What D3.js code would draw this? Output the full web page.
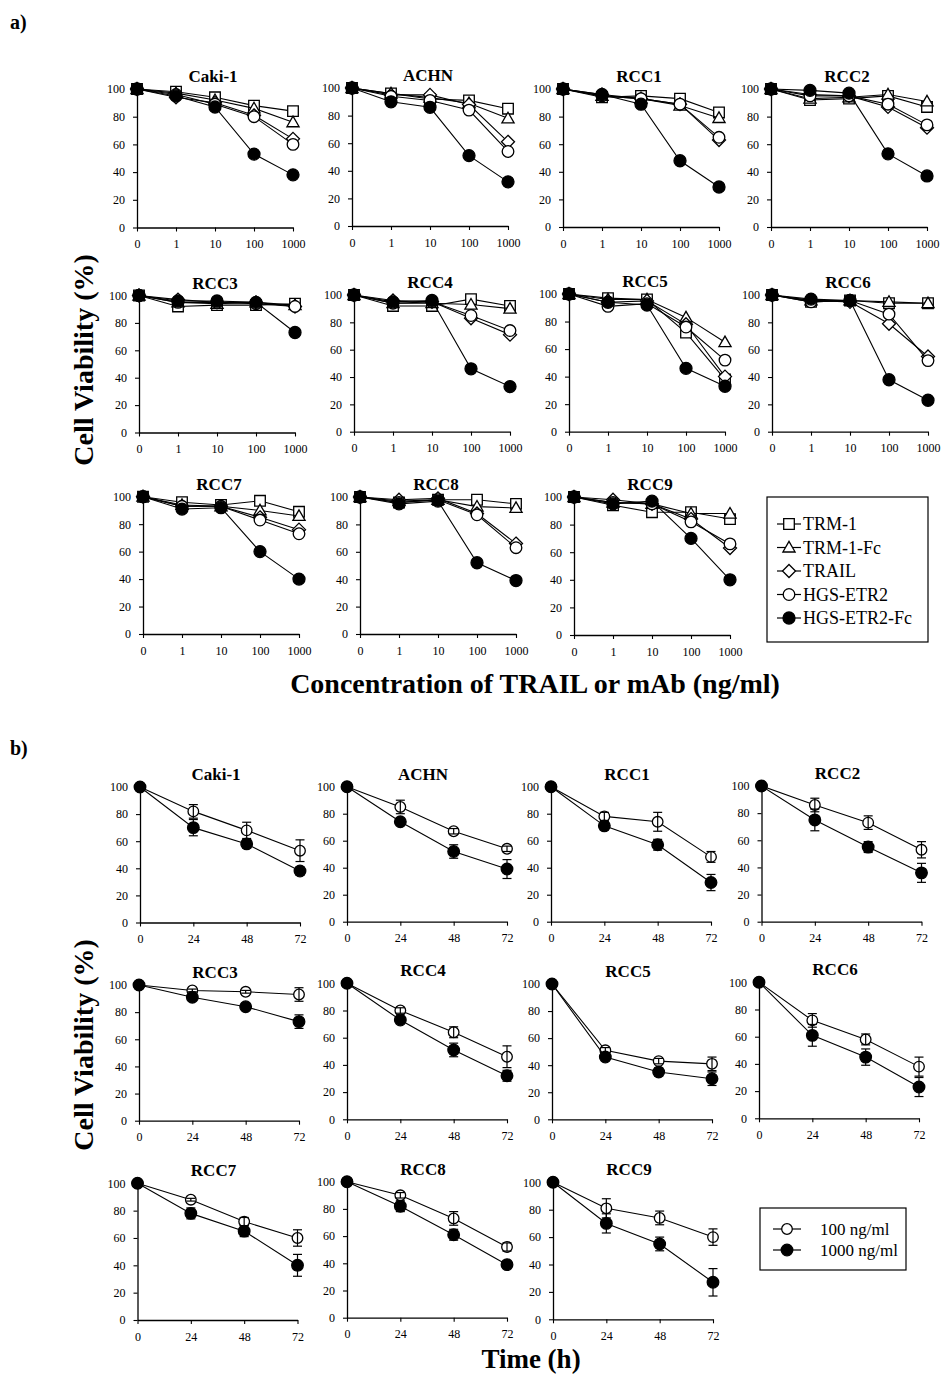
<!DOCTYPE html>
<html><head><meta charset="utf-8">
<script src="https://cdn.jsdelivr.net/npm/d3@7"></script>
<style>
body{margin:0;background:#fff}
svg{display:block}
text{font-family:"Liberation Serif","Times New Roman",serif;fill:#000}
</style>
</head><body>
<svg id="c" width="941" height="1376"></svg>
<script>
// ---------- DATA ----------
const cellLines = ["Caki-1","ACHN","RCC1","RCC2","RCC3","RCC4","RCC5","RCC6","RCC7","RCC8","RCC9"];
const concLabels = ["0","1","10","100","1000"];
const timeLabels = [0,24,48,72];
const yTicks = [0,20,40,60,80,100];
const seriesNamesA = ["TRM-1","TRM-1-Fc","TRAIL","HGS-ETR2","HGS-ETR2-Fc"];
const seriesNamesB = ["100 ng/ml","1000 ng/ml"];

// panel a) viability (%) per cell line, at 0,1,10,100,1000 ng/ml
const trm1 = [
 [100,98,94,88,84],[100,96,92,91,85],[100,94,95,93,83],[100,92,93,95,87],
 [100,92,93,93,94],[100,92,92,97,92],[100,97,96,72,38],[100,95,96,94,94],
 [100,96,94,97,89],[100,96,98,98,95],[100,94,89,89,84]];
const trm1Fc = [
 [100,97,92,86,76],[100,96,93,89,78],[100,95,93,88,79],[100,93,94,96,91],
 [100,95,94,95,93],[100,94,94,93,90],[100,96,96,83,65],[100,96,96,95,94],
 [100,94,93,90,86],[100,97,98,93,92],[100,96,95,88,88]];
const trail = [
 [100,94,90,81,64],[100,95,95,88,61],[100,96,93,89,63],[100,96,95,87,72],
 [100,97,95,95,92],[100,96,95,83,71],[100,94,95,78,40],[100,96,95,79,55],
 [100,93,93,85,76],[100,98,99,88,66],[100,98,95,84,63]];
const hgsEtr2 = [
 [100,96,89,80,60],[100,94,91,84,54],[100,95,93,89,65],[100,95,95,89,74],
 [100,95,95,94,92],[100,94,95,85,74],[100,91,93,76,52],[100,95,96,86,52],
 [100,93,93,83,73],[100,96,98,87,63],[100,96,95,82,66]];
const hgsEtr2Fc = [
 [100,95,87,53,38],[100,90,86,51,32],[100,96,89,48,29],[100,99,97,53,37],
 [100,96,96,95,73],[100,95,96,46,33],[100,94,92,46,33],[100,97,96,38,23],
 [100,91,92,60,40],[100,95,97,52,39],[100,95,97,70,40]];

// panel b) viability (%) at 0,24,48,72 h
const mean100 = [
 [100,82,68,53],[100,85,67,54],[100,78,74,48],[100,86,73,53],
 [100,96,95,93],[100,80,64,46],[100,51,43,41],[100,72,58,38],
 [100,88,72,60],[100,90,73,52],[100,81,74,60]];
const err100 = [
 [0,5,6,8],[0,5,2,2],[0,3,7,4],[0,5,5,6],
 [0,1,1,5],[0,2,4,8],[0,2,2,5],[0,5,4,7],
 [0,1,3,6],[0,2,5,3],[0,7,5,6]];
const mean1000 = [
 [100,70,58,38],[100,74,52,39],[100,71,57,29],[100,75,55,36],
 [100,91,84,73],[100,73,51,32],[100,46,35,30],[100,61,45,23],
 [100,78,65,40],[100,82,61,39],[100,70,55,27]];
const err1000 = [
 [0,6,3,3],[0,2,5,7],[0,3,4,6],[0,8,4,7],
 [0,2,2,5],[0,2,5,4],[0,2,3,5],[0,8,6,7],
 [0,4,4,8],[0,4,4,2],[0,7,5,10]];

// ---------- LAYOUT ----------
const layoutA = [
 {x:137,t:89,b:227.5},{x:352,t:88,b:226},{x:563,t:89,b:227},{x:771,t:89,b:227},
 {x:139,t:295.5,b:432.5},{x:354,t:295,b:431.7},{x:569,t:294,b:431.7},{x:772,t:295,b:431.7},
 {x:143,t:496.7,b:634},{x:360,t:497,b:634},{x:574,t:497,b:635}];
const wA = 156;
const layoutB = [
 {x:140,t:787,b:922.5},{x:347,t:786.7,b:921.7},{x:551,t:786.7,b:921.7},{x:761.5,t:786,b:921.7},
 {x:139,t:985,b:1120.7},{x:347,t:983.3,b:1119.3},{x:552,t:984,b:1119.3},{x:759,t:982.3,b:1118.3},
 {x:137.5,t:1183.3,b:1320},{x:347,t:1181.7,b:1317.7},{x:553,t:1182.3,b:1319.3}];
const wB = 160;

const svg = d3.select("#c");
svg.append("rect").attr("width",941).attr("height",1376).attr("fill","#fff");

// symbols
const sqSym = {draw(c,s){const h=s;c.moveTo(-h,-h);c.lineTo(h,-h);c.lineTo(h,h);c.lineTo(-h,h);c.closePath();}};
const triSym = {draw(c,s){c.moveTo(0,-s*1.15);c.lineTo(s*1.15,s*0.85);c.lineTo(-s*1.15,s*0.85);c.closePath();}};
const diaSym = {draw(c,s){const h=s*1.25;c.moveTo(0,-h);c.lineTo(h,0);c.lineTo(0,h);c.lineTo(-h,0);c.closePath();}};
const cirSym = {draw(c,s){c.moveTo(s,0);c.arc(0,0,s,0,2*Math.PI);}};
const symA = [
 {type:sqSym,size:5.3,fill:"#fff"},
 {type:triSym,size:5.3,fill:"#fff"},
 {type:diaSym,size:5.2,fill:"#fff"},
 {type:cirSym,size:5.8,fill:"#fff"},
 {type:cirSym,size:6,fill:"#000"}];
const symB = [
 {type:cirSym,size:5.3,fill:"#fff"},
 {type:cirSym,size:5.8,fill:"#000"}];

function symPath(s){ return d3.symbol().type(s.type).size(s.size)(); }

function drawAxes(g,x,y,isA){
  const ya = d3.axisLeft(y).tickValues(yTicks).tickSize(4).tickSizeOuter(0).tickPadding(8);
  const gy = g.append("g").attr("transform",`translate(${x.range()[0]},0)`).call(ya);
  const xa = isA ? d3.axisBottom(x).tickSize(4).tickSizeOuter(0).tickPadding(8)
                 : d3.axisBottom(x).tickValues(timeLabels).tickSize(4).tickSizeOuter(0).tickPadding(8);
  const gx = g.append("g").attr("transform",`translate(0,${y.range()[0]})`).call(xa);
  [gy,gx].forEach(a=>{
    a.selectAll("path.domain").attr("stroke","#000").attr("stroke-width",1.3);
    a.selectAll(".tick line").attr("stroke","#000").attr("stroke-width",1.1);
    a.selectAll("text").style("font-family",'"Liberation Serif",serif').style("font-size","12px").attr("fill","#000");
  });
}

// ---------- PANEL a ----------
const seriesA = [trm1,trm1Fc,trail,hgsEtr2,hgsEtr2Fc];
cellLines.forEach((name,i)=>{
  const L = layoutA[i];
  const x = d3.scalePoint().domain(concLabels).range([L.x,L.x+wA]).padding(0);
  const y = d3.scaleLinear().domain([0,100]).range([L.b,L.t]);
  const g = svg.append("g");
  drawAxes(g,x,y,true);
  g.append("text").attr("x",L.x+wA/2-2).attr("y",L.t-7).attr("text-anchor","middle")
   .style("font-weight","bold").style("font-size","17px").text(name);
  const line = d3.line().x((d,j)=>x(concLabels[j])).y(d=>y(d));
  seriesA.forEach((ser,k)=>{
    const vals = ser[i];
    g.append("path").attr("d",line(vals)).attr("fill","none").attr("stroke","#000").attr("stroke-width",1.1);
    g.selectAll(null).data(vals).enter().append("path")
     .attr("d",symPath(symA[k]))
     .attr("transform",(d,j)=>`translate(${x(concLabels[j])},${y(d)})`)
     .attr("fill",symA[k].fill).attr("stroke","#000").attr("stroke-width",1.3);
  });
});

// legend a
{
  const bx=767, by=497, bw=161, bh=145;
  svg.append("rect").attr("x",bx).attr("y",by).attr("width",bw).attr("height",bh)
    .attr("fill","#fff").attr("stroke","#000").attr("stroke-width",1.2);
  seriesNamesA.forEach((nm,k)=>{
    const cy = 524 + k*23.5;
    svg.append("line").attr("x1",777).attr("x2",801).attr("y1",cy).attr("y2",cy).attr("stroke","#000").attr("stroke-width",1.2);
    svg.append("path").attr("d",symPath(symA[k])).attr("transform",`translate(789,${cy})`)
      .attr("fill",symA[k].fill).attr("stroke","#000").attr("stroke-width",1.3);
    svg.append("text").attr("x",803).attr("y",cy).attr("dy","0.35em").style("font-size","18px").text(nm);
  });
}

// ---------- PANEL b ----------
const meansB = [mean100,mean1000];
const errsB = [err100,err1000];
cellLines.forEach((name,i)=>{
  const L = layoutB[i];
  const x = d3.scaleLinear().domain([0,72]).range([L.x,L.x+wB]);
  const y = d3.scaleLinear().domain([0,100]).range([L.b,L.t]);
  const g = svg.append("g");
  drawAxes(g,x,y,false);
  g.append("text").attr("x",L.x+wB/2-4).attr("y",L.t-7).attr("text-anchor","middle")
   .style("font-weight","bold").style("font-size","17px").text(name);
  const line = d3.line().x((d,j)=>x(timeLabels[j])).y(d=>y(d));
  [0,1].forEach(k=>{
    const vals = meansB[k][i], errs = errsB[k][i];
    g.append("path").attr("d",line(vals)).attr("fill","none").attr("stroke","#000").attr("stroke-width",1.1);
    g.selectAll(null).data(vals).enter().append("path")
     .attr("d",symPath(symB[k]))
     .attr("transform",(d,j)=>`translate(${x(timeLabels[j])},${y(d)})`)
     .attr("fill",symB[k].fill).attr("stroke","#000").attr("stroke-width",1.3);
    vals.forEach((v,j)=>{
      const e = errs[j]; if(!e) return;
      const cx = x(timeLabels[j]);
      g.append("line").attr("x1",cx).attr("x2",cx).attr("y1",y(v-e)).attr("y2",y(v+e)).attr("stroke","#000").attr("stroke-width",1.2);
      [v-e,v+e].forEach(w=>g.append("line").attr("x1",cx-4.5).attr("x2",cx+4.5).attr("y1",y(w)).attr("y2",y(w)).attr("stroke","#000").attr("stroke-width",1.2));
    });
  });
});

// legend b
{
  svg.append("rect").attr("x",760).attr("y",1208).attr("width",146).attr("height",62)
    .attr("fill","#fff").attr("stroke","#000").attr("stroke-width",1.2);
  seriesNamesB.forEach((nm,k)=>{
    const cy = 1229 + k*21;
    svg.append("line").attr("x1",773).attr("x2",801).attr("y1",cy).attr("y2",cy).attr("stroke","#000").attr("stroke-width",1.2);
    svg.append("path").attr("d",symPath(symB[k])).attr("transform",`translate(787,${cy})`)
      .attr("fill",symB[k].fill).attr("stroke","#000").attr("stroke-width",1.3);
    svg.append("text").attr("x",820).attr("y",cy).attr("dy","0.35em").style("font-size","17px").text(nm);
  });
}

// ---------- BIG LABELS ----------
function bigText(x,y,txt,rot,size){
  svg.append("text").attr("transform",`translate(${x},${y}) rotate(${rot||0})`)
    .attr("text-anchor","middle").attr("dy","0.35em")
    .style("font-weight","bold").style("font-size",(size||28)+"px").text(txt);
}
bigText(83,360,"Cell Viability (%)",-90);
bigText(83,1045,"Cell Viability (%)",-90);
bigText(535,683,"Concentration of TRAIL or mAb (ng/ml)",0);
bigText(531,1359,"Time (h)",0,27);
svg.append("text").attr("x",10).attr("y",29).style("font-weight","bold").style("font-size","20px").text("a)");
svg.append("text").attr("x",10).attr("y",755).style("font-weight","bold").style("font-size","20px").text("b)");
</script>
</body></html>
